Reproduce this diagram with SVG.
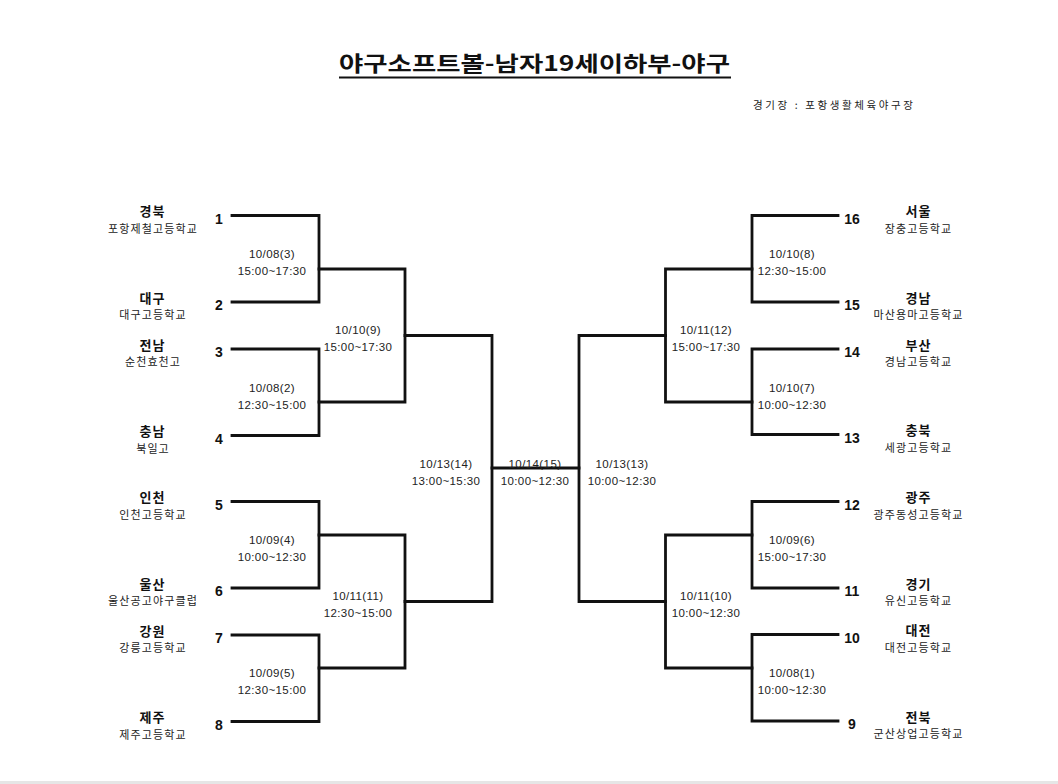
<svg xmlns="http://www.w3.org/2000/svg" width="1058" height="784" viewBox="0 0 1058 784">
<style>
.ln{fill:none;stroke:#111;stroke-width:2.8;stroke-linejoin:miter;stroke-linecap:square}
.nm{font-family:"Noto Sans CJK KR",sans-serif;font-size:13px;font-weight:bold;fill:#111;text-anchor:middle;letter-spacing:1px}
.sc{font-family:"Noto Sans CJK KR",sans-serif;font-size:11px;fill:#222;text-anchor:middle;letter-spacing:1.1px}
.no{font-family:"Liberation Sans",Arial,sans-serif;font-size:14px;font-weight:bold;fill:#111;text-anchor:middle}
.mt{font-family:"Liberation Sans",Arial,"Noto Sans CJK KR",sans-serif;font-size:11.5px;fill:#222;text-anchor:middle;letter-spacing:0.4px}
</style>
<rect width="1058" height="784" fill="#fff"/>
<rect x="0" y="781" width="1058" height="3" fill="#e6e6e6"/>
<g id="title">
<text x="339" y="71" font-family="'Noto Sans CJK KR',sans-serif" font-size="21" font-weight="bold" fill="#111" textLength="391" lengthAdjust="spacingAndGlyphs">야구소프트볼-남자19세이하부-야구</text>
<line x1="339" y1="77.5" x2="731" y2="77.5" stroke="#111" stroke-width="1.8"/>
</g>
<g id="venue">
<text x="753" y="109" font-family="'Noto Sans CJK KR',sans-serif" font-size="10.5" fill="#222" textLength="160" lengthAdjust="spacing">경기장 : 포항생활체육야구장</text>
</g>
<g id="connectors">
<path class="ln" d="M232 215.5H319V302H232"/>
<path class="ln" d="M232 349H319V435.5H232"/>
<path class="ln" d="M232 501.5H319V588H232"/>
<path class="ln" d="M232 635H319V721.5H232"/>
<path class="ln" d="M319 269H405V402H319"/>
<path class="ln" d="M319 535H405V668H319"/>
<path class="ln" d="M405 335.5H492V601.5H405"/>
<path class="ln" d="M492 468H579"/>
<path class="ln" d="M838 215.5H752V302H838"/>
<path class="ln" d="M838 349H752V434.5H838"/>
<path class="ln" d="M838 501.5H752V588H838"/>
<path class="ln" d="M838 634.5H752V721H838"/>
<path class="ln" d="M752 269H665.5V402H752"/>
<path class="ln" d="M752 535H665.5V668H752"/>
<path class="ln" d="M665.5 335.5H579V601.5H665.5"/>
</g>
<g id="team-1"><text class="nm" x="152.5" y="216">경북</text><text class="sc" x="153" y="232.5">포항제철고등학교</text><text class="no" x="219" y="223.5">1</text></g>
<g id="team-2"><text class="nm" x="152.5" y="302.5">대구</text><text class="sc" x="153" y="319">대구고등학교</text><text class="no" x="219" y="310">2</text></g>
<g id="team-3"><text class="nm" x="152.5" y="349.5">전남</text><text class="sc" x="153" y="366">순천효천고</text><text class="no" x="219" y="357">3</text></g>
<g id="team-4"><text class="nm" x="152.5" y="436">충남</text><text class="sc" x="153" y="452.5">북일고</text><text class="no" x="219" y="443.5">4</text></g>
<g id="team-5"><text class="nm" x="152.5" y="502">인천</text><text class="sc" x="153" y="518.5">인천고등학교</text><text class="no" x="219" y="509.5">5</text></g>
<g id="team-6"><text class="nm" x="152.5" y="588.5">울산</text><text class="sc" x="153" y="605">울산공고야구클럽</text><text class="no" x="219" y="596">6</text></g>
<g id="team-7"><text class="nm" x="152.5" y="635.5">강원</text><text class="sc" x="153" y="652">강릉고등학교</text><text class="no" x="219" y="643">7</text></g>
<g id="team-8"><text class="nm" x="152.5" y="722">제주</text><text class="sc" x="153" y="738.5">제주고등학교</text><text class="no" x="219" y="729.5">8</text></g>
<g id="team-16"><text class="nm" x="918.5" y="216">서울</text><text class="sc" x="918.5" y="232.5">장충고등학교</text><text class="no" x="852" y="223.5">16</text></g>
<g id="team-15"><text class="nm" x="918.5" y="302.5">경남</text><text class="sc" x="918.5" y="319">마산용마고등학교</text><text class="no" x="852" y="310">15</text></g>
<g id="team-14"><text class="nm" x="918.5" y="349.5">부산</text><text class="sc" x="918.5" y="366">경남고등학교</text><text class="no" x="852" y="357">14</text></g>
<g id="team-13"><text class="nm" x="918.5" y="435">충북</text><text class="sc" x="918.5" y="451.5">세광고등학교</text><text class="no" x="852" y="442.5">13</text></g>
<g id="team-12"><text class="nm" x="918.5" y="502">광주</text><text class="sc" x="918.5" y="518.5">광주동성고등학교</text><text class="no" x="852" y="509.5">12</text></g>
<g id="team-11"><text class="nm" x="918.5" y="588.5">경기</text><text class="sc" x="918.5" y="605">유신고등학교</text><text class="no" x="852" y="596">11</text></g>
<g id="team-10"><text class="nm" x="918.5" y="635">대전</text><text class="sc" x="918.5" y="651.5">대전고등학교</text><text class="no" x="852" y="642.5">10</text></g>
<g id="team-9"><text class="nm" x="918.5" y="721.5">전북</text><text class="sc" x="918.5" y="738">군산상업고등학교</text><text class="no" x="852" y="729">9</text></g>
<g id="match-3"><text class="mt" x="272" y="258">10/08(3)</text><text class="mt" x="272" y="275">15:00~17:30</text></g>
<g id="match-2"><text class="mt" x="272" y="391.5">10/08(2)</text><text class="mt" x="272" y="408.5">12:30~15:00</text></g>
<g id="match-4"><text class="mt" x="272" y="543.5">10/09(4)</text><text class="mt" x="272" y="560.5">10:00~12:30</text></g>
<g id="match-5"><text class="mt" x="272" y="677">10/09(5)</text><text class="mt" x="272" y="694">12:30~15:00</text></g>
<g id="match-9"><text class="mt" x="358" y="334">10/10(9)</text><text class="mt" x="358" y="351">15:00~17:30</text></g>
<g id="match-11"><text class="mt" x="358" y="599.5">10/11(11)</text><text class="mt" x="358" y="617">12:30~15:00</text></g>
<g id="match-14"><text class="mt" x="446" y="467.5">10/13(14)</text><text class="mt" x="446" y="485">13:00~15:30</text></g>
<g id="match-15"><text class="mt" x="535" y="467.5">10/14(15)</text><text class="mt" x="535" y="485">10:00~12:30</text></g>
<g id="match-13"><text class="mt" x="622" y="467.5">10/13(13)</text><text class="mt" x="622" y="485">10:00~12:30</text></g>
<g id="match-12"><text class="mt" x="706" y="334">10/11(12)</text><text class="mt" x="706" y="351">15:00~17:30</text></g>
<g id="match-10"><text class="mt" x="706" y="599.5">10/11(10)</text><text class="mt" x="706" y="617">10:00~12:30</text></g>
<g id="match-8"><text class="mt" x="792" y="258">10/10(8)</text><text class="mt" x="792" y="275">12:30~15:00</text></g>
<g id="match-7"><text class="mt" x="792" y="391.5">10/10(7)</text><text class="mt" x="792" y="408.5">10:00~12:30</text></g>
<g id="match-6"><text class="mt" x="792" y="543.5">10/09(6)</text><text class="mt" x="792" y="560.5">15:00~17:30</text></g>
<g id="match-1"><text class="mt" x="792" y="677">10/08(1)</text><text class="mt" x="792" y="694">10:00~12:30</text></g>
</svg>
